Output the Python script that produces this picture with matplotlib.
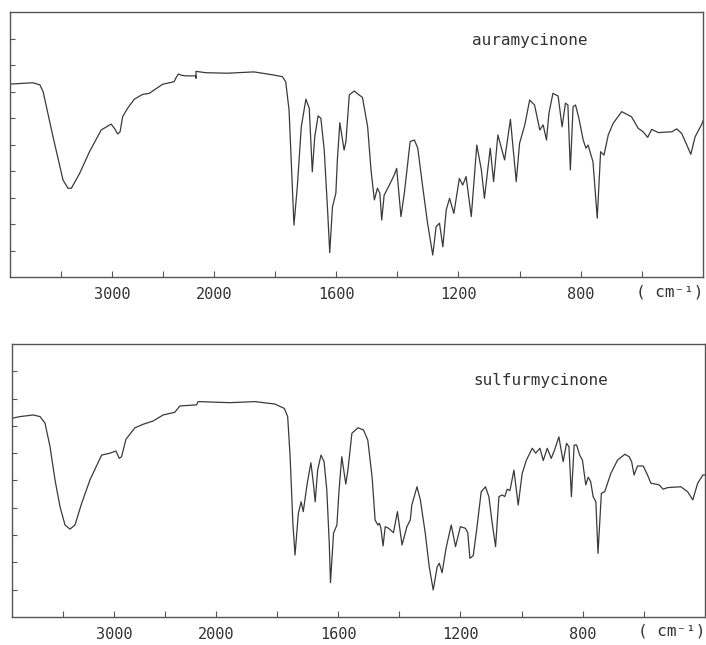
import numpy as np
from matplotlib import pyplot as plt

# IR spectra, wavenumber (cm-1) vs transmittance (%)
aura_wn = [4000, 3776, 3707, 3675, 3578, 3480, 3431, 3398, 3317, 3220, 3105, 3008, 2976, 2943, 2920,
           2895, 2846, 2780, 2700, 2634, 2585, 2504, 2390, 2374, 2348, 2315, 2276, 2178, 2175, 2175,
           2081, 1956, 1869, 1803, 1776, 1765, 1754, 1747, 1738, 1727, 1714, 1699, 1688, 1678, 1670,
           1659, 1650, 1639, 1628, 1621, 1612, 1601, 1596, 1588, 1574, 1568, 1557, 1541, 1525, 1514,
           1497, 1486, 1475, 1465, 1457, 1451, 1443, 1426, 1410, 1402, 1388, 1377, 1358, 1344, 1333,
           1317, 1301, 1284, 1273, 1262, 1251, 1240, 1229, 1215, 1197, 1186, 1175, 1158, 1140, 1125,
           1115, 1096, 1085, 1071, 1049, 1030, 1011, 1000, 983, 967, 951, 934, 923, 912, 904,
           891, 874, 861, 850, 842, 834, 825, 817, 806, 792, 783, 776, 760, 746, 735,
           724, 710, 694, 666, 634, 612, 596, 581, 568, 546, 502, 486, 470, 453, 440,
           426, 404, 400]
aura_t = [72.8, 73.3, 72.5, 69.9, 52.9, 36.6, 33.5, 33.5, 39.1, 47.3, 55.5, 57.7, 56.1, 54.0, 54.8,
          60.5, 63.7, 67.1, 68.9, 69.3, 70.6, 72.7, 73.7, 75.0, 76.6, 76.1, 75.9, 75.9, 75.0, 77.6,
          77.1, 76.9, 77.4, 76.2, 75.6, 73.7, 63.0, 44.2, 19.6, 34.1, 56.7, 67.1, 63.7, 39.7, 52.9,
          60.8, 59.9, 47.9, 25.3, 9.2, 26.5, 31.6, 44.2, 58.2, 47.9, 51.1, 68.7, 70.2, 68.7, 67.8,
          56.7, 40.4, 29.1, 33.5, 31.6, 21.5, 30.9, 34.7, 38.5, 41.0, 22.8, 31.6, 51.1, 51.7, 48.6,
          34.1, 20.3, 8.3, 19.0, 20.3, 11.4, 25.3, 29.7, 24.0, 37.2, 34.7, 37.9, 22.8, 49.8, 40.4,
          29.7, 48.6, 36.0, 53.6, 44.2, 59.5, 36.0, 50.5, 57.4, 66.8, 64.9, 55.5, 57.4, 51.7, 61.8,
          69.3, 68.3, 56.7, 65.6, 64.9, 40.4, 64.3, 64.9, 59.9, 51.7, 48.6, 49.8, 43.5, 22.2, 47.3,
          46.0, 53.6, 58.0, 62.4, 60.5, 56.1, 54.8, 52.7, 55.7, 54.5, 54.8, 55.9, 54.2, 49.8, 46.3,
          52.9, 57.7, 58.9]

sulf_wn = [4000, 3922, 3791, 3725, 3676, 3627, 3578, 3529, 3480, 3431, 3382, 3317, 3235, 3121, 3039,
           2980, 2948, 2925, 2882, 2794, 2713, 2615, 2517, 2402, 2353, 2189, 2174, 1954, 1872, 1807,
           1776, 1765, 1757, 1748, 1741, 1730, 1721, 1714, 1701, 1689, 1681, 1675, 1667, 1656, 1646,
           1637, 1629, 1625, 1615, 1604, 1597, 1588, 1575, 1568, 1555, 1535, 1517, 1503, 1489, 1479,
           1470, 1465, 1460, 1453, 1446, 1435, 1419, 1406, 1391, 1375, 1364, 1359, 1342, 1331, 1315,
           1302, 1289, 1276, 1269, 1260, 1247, 1230, 1216, 1200, 1184, 1176, 1169, 1158, 1147, 1132,
           1118, 1107, 1096, 1085, 1074, 1063, 1055, 1047, 1038, 1025, 1011, 998, 984, 965, 954,
           940, 929, 916, 903, 892, 878, 864, 853, 845, 837, 828, 820, 810, 801, 790,
           782, 774, 766, 757, 750, 739, 728, 708, 686, 662, 648, 640, 632, 621, 602,
           588, 577, 550, 537, 522, 479, 457, 440, 424, 407, 400]
sulf_t = [72.8, 73.4, 74.0, 73.4, 71.0, 62.4, 50.2, 40.4, 33.7, 32.2, 33.7, 41.6, 50.2, 59.3, 60.0,
          60.8, 58.1, 58.7, 65.1, 69.3, 70.6, 71.8, 74.0, 75.0, 77.3, 77.7, 78.9, 78.5, 78.9, 78.0,
          76.4, 73.4, 58.7, 34.3, 22.7, 38.0, 42.2, 38.6, 49.0, 56.5, 49.0, 42.2, 53.8, 59.3, 56.9,
          46.5, 27.0, 12.6, 30.7, 33.7, 46.5, 58.7, 48.7, 53.8, 67.3, 69.3, 68.5, 64.8, 51.4, 35.5,
          33.7, 34.3, 32.5, 26.0, 33.1, 32.5, 30.9, 38.6, 26.4, 33.1, 35.5, 41.0, 47.7, 42.9, 30.7,
          18.4, 9.9, 18.4, 19.7, 16.2, 25.2, 33.7, 25.8, 33.1, 32.5, 30.9, 21.5, 22.5, 31.9, 45.9,
          47.7, 44.1, 34.3, 25.8, 44.1, 44.7, 44.1, 46.8, 46.3, 53.8, 41.0, 52.6, 57.5, 61.8, 60.0,
          61.8, 57.3, 61.8, 58.1, 61.2, 66.0, 56.9, 63.6, 62.4, 44.1, 63.0, 63.0, 59.3, 57.5, 48.4,
          51.2, 49.6, 44.1, 42.2, 23.3, 45.3, 45.9, 52.6, 57.5, 59.6, 58.7, 56.9, 52.0, 55.3, 55.3,
          52.0, 49.0, 48.4, 46.8, 47.4, 47.7, 45.9, 42.9, 49.0, 52.0, 52.0]

tick_pos = [3500, 3000, 2500, 2000, 1800, 1600, 1400, 1200, 1000, 800, 600]
tick_lbl = ['', '3000', '', '2000', '', '1600', '', '1200', '', '800', '']


# chart paper: scale above 2000 cm-1 is compressed 3x
def fwd(w):
    w = np.asarray(w, dtype=float)
    return np.where(w <= 2000, w, 2000 + (w - 2000) / 3.0)


def inv(p):
    p = np.asarray(p, dtype=float)
    return np.where(p <= 2000, p, 2000 + (p - 2000) * 3.0)


font = 'DejaVu Sans Mono'
ink = '#3a3a3a'

fig = plt.figure(figsize=(7.06, 6.45), dpi=100)
ax1 = fig.add_axes([0.0142, 0.5705, 0.9816, 0.4109])
ax2 = fig.add_axes([0.0170, 0.0434, 0.9816, 0.4233])

panels = [(ax1, aura_wn, aura_t, 'auramycinone', 0.875, -0.075),
          (ax2, sulf_wn, sulf_t, 'sulfurmycinone', 0.85, -0.066)]

for ax, wn, t, name, ty, uy in panels:
    ax.set_xscale('function', functions=(fwd, inv))
    ax.plot(wn, t, color=ink, lw=0.9)
    ax.set_xlim(4000, 400)
    ax.set_ylim(0, 100)
    ax.set_xticks(tick_pos)
    ax.set_xticklabels(tick_lbl, fontfamily=font, fontsize=11, color='#333333')
    ax.xaxis.set_minor_locator(plt.NullLocator())
    ax.set_yticks(np.arange(10, 100, 10))
    ax.set_yticklabels([])
    ax.tick_params(direction='in', length=3.5, width=0.8, color='#555555', pad=7)
    ax.tick_params(axis='x', length=4)
    for s in ax.spines.values():
        s.set_color('#555555')
        s.set_linewidth(1.0)
    ax.text(0.666, ty, name, transform=ax.transAxes, ha='left', va='baseline',
            fontfamily=font, fontsize=11.5, color='#333333')
    ax.text(1.0, uy, '( cm⁻¹)', transform=ax.transAxes, ha='right', va='baseline',
            fontfamily=font, fontsize=11.5, color='#333333')

fig.savefig('out.png', dpi=100)
